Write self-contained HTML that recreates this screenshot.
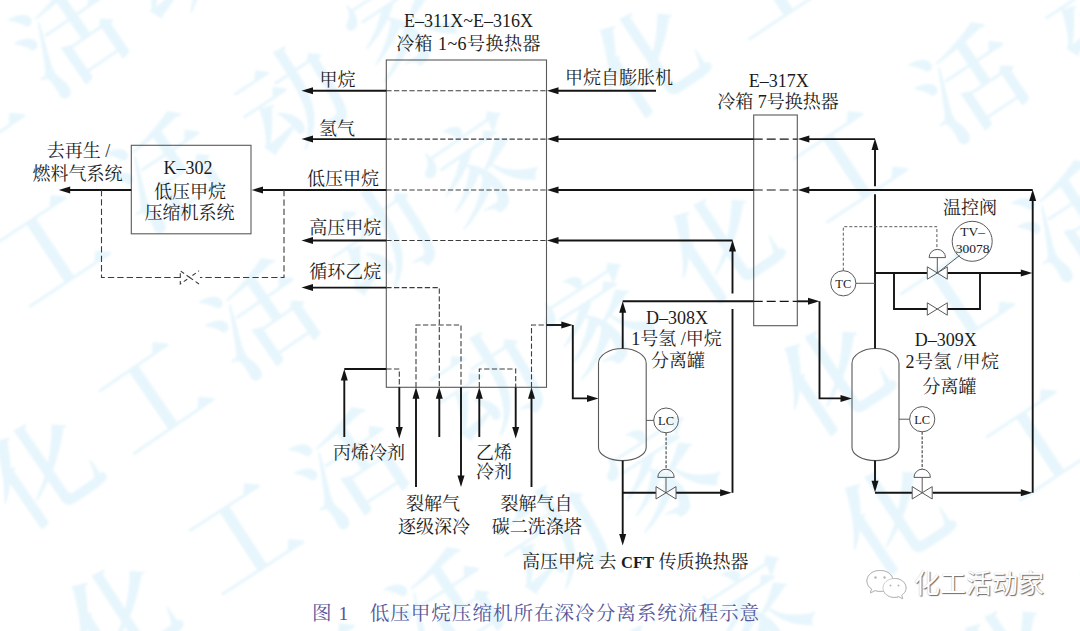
<!DOCTYPE html>
<html lang="zh-CN">
<head>
<meta charset="utf-8">
<title>图 1 低压甲烷压缩机所在深冷分离系统流程示意</title>
<style>
html,body{margin:0;padding:0;background:#fff;}
body{width:1080px;height:631px;overflow:hidden;position:relative;font-family:"Liberation Serif","Noto Serif CJK SC",serif;}
#wm{position:absolute;left:0;top:0;width:1080px;height:631px;overflow:hidden;}
#wm span{position:absolute;display:block;width:106px;height:106px;text-align:center;white-space:nowrap;font-family:"Liberation Serif","Noto Serif CJK SC",serif;font-weight:600;font-size:106px;line-height:106px;color:#e7f6fc;transform-origin:50% 50%;filter:blur(1px);}
svg{position:absolute;left:0;top:0;}
svg text{font-family:"Liberation Serif","Noto Serif CJK SC",serif;}
#wx{position:absolute;left:914px;top:567px;font-family:"Liberation Sans","Noto Sans CJK SC",sans-serif;font-size:26px;line-height:34px;font-weight:400;color:#fff;text-shadow:1px 1px 1px rgba(60,60,60,.75),0 0 1px rgba(120,120,120,.5);white-space:nowrap;}
</style>
</head>
<body>
<div id="wm">
<span style="left:-88.0px;top:60.5px;transform:rotate(-34.5deg)">工</span>
<span style="left:19.0px;top:-13.0px;transform:rotate(-34.5deg)">活</span>
<span style="left:126.0px;top:-86.5px;transform:rotate(-34.5deg)">动</span>
<span style="left:-119.0px;top:273.0px;transform:rotate(-33.5deg)">化</span>
<span style="left:-2.0px;top:197.5px;transform:rotate(-33.5deg)">工</span>
<span style="left:115.0px;top:122.0px;transform:rotate(-33.5deg)">活</span>
<span style="left:241.0px;top:50.5px;transform:rotate(-33.5deg)">动</span>
<span style="left:349.0px;top:-29.0px;transform:rotate(-33.5deg)">家</span>
<span style="left:-8.0px;top:420.0px;transform:rotate(-34.5deg)">化</span>
<span style="left:101.0px;top:344.5px;transform:rotate(-34.5deg)">工</span>
<span style="left:210.0px;top:269.0px;transform:rotate(-34.5deg)">活</span>
<span style="left:329.0px;top:190.5px;transform:rotate(-34.5deg)">动</span>
<span style="left:428.0px;top:118.0px;transform:rotate(-34.5deg)">家</span>
<span style="left:597.0px;top:9.0px;transform:rotate(-33.5deg)">化</span>
<span style="left:717.0px;top:-69.0px;transform:rotate(-33.5deg)">工</span>
<span style="left:69.0px;top:566.0px;transform:rotate(-33deg)">化</span>
<span style="left:191.0px;top:486.0px;transform:rotate(-33deg)">工</span>
<span style="left:299.0px;top:418.0px;transform:rotate(-33deg)">活</span>
<span style="left:437.0px;top:337.0px;transform:rotate(-33deg)">动</span>
<span style="left:547.0px;top:269.0px;transform:rotate(-33deg)">家</span>
<span style="left:671.0px;top:195.0px;transform:rotate(-33.5deg)">化</span>
<span style="left:795.0px;top:114.0px;transform:rotate(-33.5deg)">工</span>
<span style="left:919.0px;top:33.0px;transform:rotate(-33.5deg)">活</span>
<span style="left:1043.0px;top:-48.0px;transform:rotate(-33.5deg)">动</span>
<span style="left:286.0px;top:626.0px;transform:rotate(-33deg)">工</span>
<span style="left:394.0px;top:558.0px;transform:rotate(-33deg)">活</span>
<span style="left:502.0px;top:490.0px;transform:rotate(-33deg)">动</span>
<span style="left:610.0px;top:422.0px;transform:rotate(-33deg)">家</span>
<span style="left:782.0px;top:327.0px;transform:rotate(-33.5deg)">化</span>
<span style="left:902.0px;top:249.0px;transform:rotate(-33.5deg)">工</span>
<span style="left:1022.0px;top:171.0px;transform:rotate(-33.5deg)">活</span>
<span style="left:597.0px;top:630.0px;transform:rotate(-33deg)">动</span>
<span style="left:705.0px;top:562.0px;transform:rotate(-33deg)">家</span>
<span style="left:842.0px;top:467.0px;transform:rotate(-33.5deg)">化</span>
<span style="left:988.0px;top:392.0px;transform:rotate(-33.5deg)">工</span>
<span style="left:962.0px;top:607.0px;transform:rotate(-33.5deg)">化</span>
<span style="left:1082.0px;top:529.0px;transform:rotate(-33.5deg)">工</span>
</div>
<svg width="1080" height="631" viewBox="0 0 1080 631">
<rect x="386.3" y="60" width="160.2" height="327.3" fill="none" stroke="#5a5a5a" stroke-width="1.1"/>
<rect x="753.7" y="115" width="43.6" height="210.7" fill="none" stroke="#5a5a5a" stroke-width="1.1"/>
<rect x="131.3" y="145.3" width="119.7" height="88.5" fill="none" stroke="#5a5a5a" stroke-width="1.1"/>
<path d="M386.3 90.7 L546.5 90.7" fill="none" stroke="#3c3c3c" stroke-width="1.1" stroke-dasharray="5.3 2.4"/>
<path d="M386.3 139.1 L546.5 139.1" fill="none" stroke="#3c3c3c" stroke-width="1.1" stroke-dasharray="5.3 2.4"/>
<path d="M386.3 190 L546.5 190" fill="none" stroke="#3c3c3c" stroke-width="1.1" stroke-dasharray="5.3 2.4"/>
<path d="M386.3 240.5 L546.5 240.5" fill="none" stroke="#3c3c3c" stroke-width="1.1" stroke-dasharray="5.3 2.4"/>
<path d="M753.7 139.1 L797.3 139.1" fill="none" stroke="#141414" stroke-width="1.2" stroke-dasharray="9 4"/>
<path d="M753.7 190 L797.3 190" fill="none" stroke="#141414" stroke-width="1.2" stroke-dasharray="9 4"/>
<path d="M753.7 301.3 L797.3 301.3" fill="none" stroke="#141414" stroke-width="1.2" stroke-dasharray="9 4"/>
<path d="M386.3 90.7 L306 90.7" fill="none" stroke="#141414" stroke-width="1.9"/>
<polygon points="301.5,90.7 313,87.2 313,94.2" fill="#141414"/>
<path d="M386.3 139.1 L306 139.1" fill="none" stroke="#141414" stroke-width="1.9"/>
<polygon points="301.5,139.1 313,135.6 313,142.6" fill="#141414"/>
<path d="M386.3 240.5 L306 240.5" fill="none" stroke="#141414" stroke-width="1.9"/>
<polygon points="301.5,240.5 313,237 313,244" fill="#141414"/>
<path d="M386.3 287.6 L306 287.6" fill="none" stroke="#141414" stroke-width="1.9"/>
<polygon points="301.5,287.6 313,284.1 313,291.1" fill="#141414"/>
<path d="M386.3 190 L257 190" fill="none" stroke="#141414" stroke-width="1.9"/>
<polygon points="251.5,190 263,186.5 263,193.5" fill="#141414"/>
<path d="M131.3 190 L66 190" fill="none" stroke="#141414" stroke-width="1.9"/>
<polygon points="58.7,190 70.2,186.5 70.2,193.5" fill="#141414"/>
<path d="M284 190 L284 277.5 L200 277.5" fill="none" stroke="#3c3c3c" stroke-width="1.1" stroke-dasharray="6.3 3.1"/>
<path d="M180 277.5 L101.5 277.5 L101.5 190" fill="none" stroke="#3c3c3c" stroke-width="1.1" stroke-dasharray="6.3 3.1"/>
<path d="M180.3 277.5 L180.3 270.8 L189.7 277.5 L199 270.8 M199 284 L189.7 277.5 L180.3 284 L180.3 277.5" fill="none" stroke="#3c3c3c" stroke-width="1.1" stroke-dasharray="4.2 3"/>
<path d="M656 90.7 L552 90.7" fill="none" stroke="#141414" stroke-width="1.9"/>
<polygon points="547,90.7 558.5,87.2 558.5,94.2" fill="#141414"/>
<path d="M753.7 139.1 L552 139.1" fill="none" stroke="#141414" stroke-width="1.9"/>
<polygon points="547,139.1 558.5,135.6 558.5,142.6" fill="#141414"/>
<path d="M875 139.1 L803 139.1" fill="none" stroke="#141414" stroke-width="1.9"/>
<polygon points="797.8,139.1 809.3,135.6 809.3,142.6" fill="#141414"/>
<path d="M753.7 190 L552 190" fill="none" stroke="#141414" stroke-width="1.9"/>
<polygon points="547,190 558.5,186.5 558.5,193.5" fill="#141414"/>
<path d="M1032.7 190 L803 190" fill="none" stroke="#141414" stroke-width="1.9"/>
<polygon points="797.8,190 809.3,186.5 809.3,193.5" fill="#141414"/>
<path d="M732.5 240.5 L552 240.5" fill="none" stroke="#141414" stroke-width="1.9"/>
<polygon points="547,240.5 558.5,237 558.5,244" fill="#141414"/>
<path d="M732.5 492.8 L732.5 309" fill="none" stroke="#141414" stroke-width="1.9"/>
<path d="M732.5 293.5 L732.5 246.5" fill="none" stroke="#141414" stroke-width="1.9"/>
<polygon points="732.5,240 729,251.5 736,251.5" fill="#141414"/>
<path d="M386.3 287.6 L439.3 287.6 L439.3 387.3" fill="none" stroke="#3c3c3c" stroke-width="1.1" stroke-dasharray="5.3 2.4"/>
<path d="M416 387.3 L416 325 L461 325 L461 387.3" fill="none" stroke="#3c3c3c" stroke-width="1.1" stroke-dasharray="5.3 2.4"/>
<path d="M479.3 387.3 L479.3 369 L515.7 369 L515.7 387.3" fill="none" stroke="#3c3c3c" stroke-width="1.1" stroke-dasharray="5.3 2.4"/>
<path d="M531.5 387.3 L531.5 325 L546.5 325" fill="none" stroke="#3c3c3c" stroke-width="1.1" stroke-dasharray="5.3 2.4"/>
<path d="M386.3 369 L399.3 369 L399.3 387.3" fill="none" stroke="#3c3c3c" stroke-width="1.1" stroke-dasharray="5.3 2.4"/>
<path d="M344.3 437 L344.3 375" fill="none" stroke="#141414" stroke-width="1.9"/>
<polygon points="344.3,369 340.8,380.5 347.8,380.5" fill="#141414"/>
<path d="M344.3 369 L386.3 369" fill="none" stroke="#141414" stroke-width="1.9"/>
<path d="M399.3 387.3 L399.3 432" fill="none" stroke="#141414" stroke-width="1.9"/>
<polygon points="399.3,438.5 395.8,427 402.8,427" fill="#141414"/>
<path d="M416 487 L416 393" fill="none" stroke="#141414" stroke-width="1.9"/>
<polygon points="416,387.3 412.5,398.8 419.5,398.8" fill="#141414"/>
<path d="M439.3 437 L439.3 393" fill="none" stroke="#141414" stroke-width="1.9"/>
<polygon points="439.3,387.3 435.8,398.8 442.8,398.8" fill="#141414"/>
<path d="M461 387.3 L461 481" fill="none" stroke="#141414" stroke-width="1.9"/>
<polygon points="461,487 457.5,475.5 464.5,475.5" fill="#141414"/>
<path d="M479.3 437 L479.3 393" fill="none" stroke="#141414" stroke-width="1.9"/>
<polygon points="479.3,387.3 475.8,398.8 482.8,398.8" fill="#141414"/>
<path d="M515.7 387.3 L515.7 432" fill="none" stroke="#141414" stroke-width="1.9"/>
<polygon points="515.7,438.5 512.2,427 519.2,427" fill="#141414"/>
<path d="M531.5 487 L531.5 393" fill="none" stroke="#141414" stroke-width="1.9"/>
<polygon points="531.5,387.3 528,398.8 535,398.8" fill="#141414"/>
<path d="M546.5 325 L566 325" fill="none" stroke="#141414" stroke-width="1.9"/>
<polygon points="572.8,325 561.3,321.5 561.3,328.5" fill="#141414"/>
<path d="M572.8 325 L572.8 398.4 L592 398.4" fill="none" stroke="#141414" stroke-width="1.9"/>
<polygon points="598.5,398.4 587,394.9 587,401.9" fill="#141414"/>
<path d="M598.5 363.5 A23.85 15 0 0 1 646.2 363.5 L646.2 447.5 A23.85 13.1 0 0 1 598.5 447.5 Z" fill="none" stroke="#5a5a5a" stroke-width="1.1"/>
<path d="M852 363.5 A23.5 15 0 0 1 899 363.5 L899 447.5 A23.5 13.1 0 0 1 852 447.5 Z" fill="none" stroke="#5a5a5a" stroke-width="1.1"/>
<path d="M622.7 348.5 L622.7 308" fill="none" stroke="#141414" stroke-width="1.9"/>
<polygon points="622.7,301.3 619.2,312.8 626.2,312.8" fill="#141414"/>
<path d="M622.7 301.3 L753.7 301.3" fill="none" stroke="#141414" stroke-width="1.9"/>
<path d="M797.3 301.3 L813 301.3" fill="none" stroke="#141414" stroke-width="1.9"/>
<polygon points="819.5,301.3 808,297.8 808,304.8" fill="#141414"/>
<path d="M819.5 301.3 L819.5 398.4 L846 398.4" fill="none" stroke="#141414" stroke-width="1.9"/>
<polygon points="852,398.4 840.5,394.9 840.5,401.9" fill="#141414"/>
<path d="M622.7 460.6 L622.7 539" fill="none" stroke="#141414" stroke-width="1.9"/>
<polygon points="622.7,545.5 619.2,534 626.2,534" fill="#141414"/>
<path d="M622.7 492.8 L656 492.8" fill="none" stroke="#141414" stroke-width="1.9"/>
<path d="M676 492.8 L725 492.8" fill="none" stroke="#141414" stroke-width="1.9"/>
<polygon points="731.6,492.8 720.1,489.3 720.1,496.3" fill="#141414"/>
<path d="M656 486.6 L676 499 L676 486.6 L656 499 Z" fill="#fff" fill-opacity="0.6" stroke="#5a5a5a" stroke-width="1"/>
<path d="M666 492.8 L666 477.4 M657.8 477.4 A8.2 8.2 0 0 1 674.2 477.4 Z" fill="none" stroke="#5a5a5a" stroke-width="1"/>
<circle cx="666.1" cy="420.4" r="12.4" fill="none" stroke="#5a5a5a" stroke-width="1"/>
<path d="M646.2 420.4 L654.1 420.4" fill="none" stroke="#5a5a5a" stroke-width="1"/>
<path d="M666.1 432.8 L666.1 469.2" fill="none" stroke="#6a6a6a" stroke-width="1.4" stroke-dasharray="3 1.6"/>
<path d="M875 348.5 L875 194.3" fill="none" stroke="#141414" stroke-width="1.9"/>
<path d="M875 186.2 L875 146" fill="none" stroke="#141414" stroke-width="1.9"/>
<polygon points="875,138.6 871.5,150.1 878.5,150.1" fill="#141414"/>
<path d="M875 273 L927 273" fill="none" stroke="#141414" stroke-width="1.9"/>
<path d="M947.5 273 L1026 273" fill="none" stroke="#141414" stroke-width="1.9"/>
<polygon points="1032.3,273 1020.8,269.5 1020.8,276.5" fill="#141414"/>
<path d="M894 273 L894 309 L927 309" fill="none" stroke="#141414" stroke-width="1.9"/>
<path d="M947.5 309 L980 309 L980 273" fill="none" stroke="#141414" stroke-width="1.9"/>
<path d="M927.3 266.8 L947.3 279.2 L947.3 266.8 L927.3 279.2 Z" fill="#fff" fill-opacity="0.6" stroke="#5a5a5a" stroke-width="1"/>
<path d="M927.3 302.8 L947.3 315.2 L947.3 302.8 L927.3 315.2 Z" fill="#fff" fill-opacity="0.6" stroke="#5a5a5a" stroke-width="1"/>
<path d="M937.3 273 L937.3 257.6 M929.1 257.6 A8.2 8.2 0 0 1 945.5 257.6 Z" fill="none" stroke="#5a5a5a" stroke-width="1"/>
<path d="M1032.7 492.8 L1032.7 197" fill="none" stroke="#141414" stroke-width="1.9"/>
<polygon points="1032.7,189.5 1029.2,201 1036.2,201" fill="#141414"/>
<path d="M875 460.6 L875 486" fill="none" stroke="#141414" stroke-width="1.9"/>
<polygon points="875,492.3 871.5,480.8 878.5,480.8" fill="#141414"/>
<path d="M875 492.8 L912 492.8" fill="none" stroke="#141414" stroke-width="1.9"/>
<path d="M932.5 492.8 L1026 492.8" fill="none" stroke="#141414" stroke-width="1.9"/>
<polygon points="1032.3,492.8 1020.8,489.3 1020.8,496.3" fill="#141414"/>
<path d="M912.2 486.6 L932.2 499 L932.2 486.6 L912.2 499 Z" fill="#fff" fill-opacity="0.6" stroke="#5a5a5a" stroke-width="1"/>
<path d="M922.2 492.8 L922.2 477.4 M914 477.4 A8.2 8.2 0 0 1 930.4 477.4 Z" fill="none" stroke="#5a5a5a" stroke-width="1"/>
<circle cx="922.2" cy="419.2" r="12.6" fill="none" stroke="#5a5a5a" stroke-width="1"/>
<path d="M899 419.2 L909.6 419.2" fill="none" stroke="#5a5a5a" stroke-width="1"/>
<path d="M922.2 431.8 L922.2 469.2" fill="none" stroke="#6a6a6a" stroke-width="1.4" stroke-dasharray="3 1.6"/>
<circle cx="843.3" cy="283.3" r="12.6" fill="none" stroke="#5a5a5a" stroke-width="1"/>
<path d="M855.9 283.3 L875 283.3" fill="none" stroke="#5a5a5a" stroke-width="1"/>
<path d="M843.3 270.7 L843.3 226.7 L936.9 226.7 L936.9 248.5" fill="none" stroke="#5a5a5a" stroke-width="1" stroke-dasharray="3 2"/>
<circle cx="972.2" cy="241.3" r="20" fill="none" stroke="#5a5a5a" stroke-width="1"/>
<path d="M937.3 273 L959.5 255.5" fill="none" stroke="#5a5a5a" stroke-width="1"/>
<text x="468.5" y="27" font-size="18" text-anchor="middle" fill="#1c1c1c">E–311X~E–316X</text>
<text x="468.5" y="49.5" font-size="18" text-anchor="middle" fill="#1c1c1c" letter-spacing="0.45">冷箱 1~6号换热器</text>
<text x="337.5" y="85.5" font-size="18" text-anchor="middle" fill="#1c1c1c">甲烷</text>
<text x="337" y="135" font-size="18" text-anchor="middle" fill="#1c1c1c">氢气</text>
<text x="343" y="185" font-size="18" text-anchor="middle" fill="#1c1c1c">低压甲烷</text>
<text x="345.3" y="234" font-size="18" text-anchor="middle" fill="#1c1c1c">高压甲烷</text>
<text x="345.3" y="277.5" font-size="18" text-anchor="middle" fill="#1c1c1c">循环乙烷</text>
<text x="565" y="84" font-size="18" text-anchor="start" fill="#1c1c1c">甲烷自膨胀机</text>
<text x="778.8" y="86.5" font-size="18" text-anchor="middle" fill="#1c1c1c">E–317X</text>
<text x="778" y="107.5" font-size="18" text-anchor="middle" fill="#1c1c1c">冷箱 7号换热器</text>
<text x="78.5" y="157" font-size="18" text-anchor="middle" fill="#1c1c1c">去再生 /</text>
<text x="77.5" y="179.5" font-size="18" text-anchor="middle" fill="#1c1c1c">燃料气系统</text>
<text x="188" y="174" font-size="18" text-anchor="middle" fill="#1c1c1c">K–302</text>
<text x="190" y="197.5" font-size="18" text-anchor="middle" fill="#1c1c1c">低压甲烷</text>
<text x="189.5" y="219" font-size="18" text-anchor="middle" fill="#1c1c1c">压缩机系统</text>
<text x="369" y="458.5" font-size="18" text-anchor="middle" fill="#1c1c1c">丙烯冷剂</text>
<text x="494" y="458.5" font-size="18" text-anchor="middle" fill="#1c1c1c">乙烯</text>
<text x="494" y="478" font-size="18" text-anchor="middle" fill="#1c1c1c">冷剂</text>
<text x="433" y="509.5" font-size="18" text-anchor="middle" fill="#1c1c1c">裂解气</text>
<text x="434" y="532.5" font-size="18" text-anchor="middle" fill="#1c1c1c">逐级深冷</text>
<text x="536.5" y="509.5" font-size="18" text-anchor="middle" fill="#1c1c1c">裂解气自</text>
<text x="536.7" y="532.5" font-size="18" text-anchor="middle" fill="#1c1c1c">碳二洗涤塔</text>
<text x="522" y="568" font-size="18" text-anchor="start" fill="#1c1c1c">高压甲烷<tspan dx="4.5">去</tspan> <tspan font-weight="700" font-size="16.5">CFT</tspan> 传质换热器</text>
<text x="677" y="323.5" font-size="18" text-anchor="middle" fill="#1c1c1c">D–308X</text>
<text x="676.5" y="345" font-size="18" text-anchor="middle" fill="#1c1c1c">1号氢 /甲烷</text>
<text x="678" y="367" font-size="18" text-anchor="middle" fill="#1c1c1c">分离罐</text>
<text x="945.7" y="345.5" font-size="18" text-anchor="middle" fill="#1c1c1c">D–309X</text>
<text x="952.5" y="368" font-size="18" text-anchor="middle" fill="#1c1c1c" letter-spacing="0.5">2号氢 /甲烷</text>
<text x="949.5" y="392.5" font-size="18" text-anchor="middle" fill="#1c1c1c">分离罐</text>
<text x="970" y="213.5" font-size="18" text-anchor="middle" fill="#1c1c1c">温控阀</text>
<text x="666.1" y="424.8" font-size="12.5" text-anchor="middle" fill="#1c1c1c">LC</text>
<text x="922.2" y="423.6" font-size="12.5" text-anchor="middle" fill="#1c1c1c">LC</text>
<text x="843.3" y="287.8" font-size="12.5" text-anchor="middle" fill="#1c1c1c">TC</text>
<text x="972.7" y="236" font-size="13.5" text-anchor="middle" fill="#1c1c1c">TV–</text>
<text x="972.7" y="253" font-size="13.5" text-anchor="middle" fill="#1c1c1c">30078</text>
<text x="312" y="619.5" font-size="19.6" text-anchor="start" fill="#56579a" letter-spacing="0.95">图 1　低压甲烷压缩机所在深冷分离系统流程示意</text>
<g fill="#fff" stroke="#b9b9b9" stroke-width="0.7" style="filter:drop-shadow(0.9px 0.9px 0.5px rgba(70,70,70,.75))">
<path d="M880 570.5 c-7.5 0 -13 4.600 -13 10.400 c0 3.300 1.800 6.100 4.700 8 l-1.300 4 l4.600 -2.400 c1.500 .5 3.200 .8 5 .8 c7.500 0 13 -4.600 13 -10.400 c0 -5.800 -5.500 -10.400 -13 -10.400 z"/>
<path d="M894.500 578.500 c-6.500 0 -11.500 4.200 -11.500 9.400 c0 5.200 5 9.400 11.500 9.400 c1.500 0 2.900 -.2 4.200 -.7 l4 2.100 l-1.100 -3.500 c2.700 -1.700 4.400 -4.300 4.400 -7.300 c0 -5.200 -5 -9.400 -11.500 -9.400 z"/>
</g>
<g fill="#b5b5b5"><circle cx="875.500" cy="577.500" r="1.200"/><circle cx="884.500" cy="577.500" r="1.200"/><circle cx="890.500" cy="585.500" r="1"/><circle cx="898.500" cy="585.500" r="1"/></g>
</svg>
<div id="wx">化工活动家</div>
</body>
</html>
